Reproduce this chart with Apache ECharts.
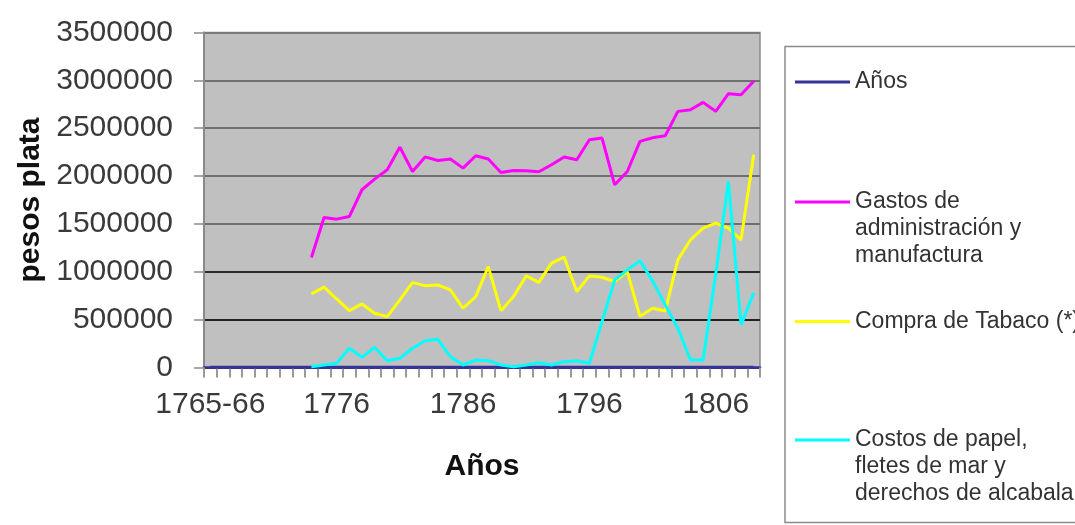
<!DOCTYPE html>
<html>
<head>
<meta charset="utf-8">
<script src="https://cdn.jsdelivr.net/npm/echarts@6/dist/echarts.min.js"></script>
<style>
html,body{margin:0;padding:0;background:#fff;}
#chart{width:1075px;height:525px;}
</style>
</head>
<body>
<div id="chart"></div>
<script>
const categories = ['1765-66','1767','1768','1769','1770','1771','1772','1773','1774','1775',
  '1776','1777','1778','1779','1780','1781','1782','1783','1784','1785',
  '1786','1787','1788','1789','1790','1791','1792','1793','1794','1795',
  '1796','1797','1798','1799','1800','1801','1802','1803','1804','1805',
  '1806','1807','1808','1809'];

const anos = [1765,1767,1768,1769,1770,1771,1772,1773,1774,1775,
  1776,1777,1778,1779,1780,1781,1782,1783,1784,1785,
  1786,1787,1788,1789,1790,1791,1792,1793,1794,1795,
  1796,1797,1798,1799,1800,1801,1802,1803,1804,1805,
  1806,1807,1808,1809];

const gastos = [null,null,null,null,null,null,null,null,
  1150000,1567000,1550000,1577000,1857000,1968000,2066000,2303000,2048000,2200000,
  2163000,2178000,2083000,2212000,2178000,2038000,2058000,2055000,2045000,2118000,
  2199000,2170000,2380000,2397000,1909000,2048000,2362000,2400000,2421000,2676000,
  2693000,2770000,2676000,2861000,2850000,2990000];

const tabaco = [null,null,null,null,null,null,null,null,
  770000,840000,716000,594000,664000,567000,531000,706000,887000,855000,
  863000,811000,619000,741000,1054000,594000,741000,957000,890000,1090000,
  1153000,793000,957000,943000,897000,1002000,535000,619000,590000,1124000,
  1334000,1456000,1508000,1456000,1334000,2223000];

const costos = [null,null,null,null,null,null,null,null,
  8000,26000,44000,201000,107000,211000,71000,96000,201000,280000,
  295000,113000,26000,78000,71000,26000,8000,26000,50000,26000,
  61000,71000,44000,479000,915000,1020000,1115000,905000,654000,410000,
  78000,78000,980000,1943000,445000,780000];

const yTicks = [0,500000,1000000,1500000,2000000,2500000,3000000,3500000];

const seriesNames = ['Años',
  'Gastos de administración y manufactura',
  'Compra de Tabaco (*)',
  'Costos de papel, fletes de mar y derechos de alcabala'];
const legendLabels = ['Años',
  '\n\nGastos de\nadministración y\nmanufactura',
  'Compra de Tabaco (*)',
  '\n\nCostos de papel,\nfletes de mar y\nderechos de alcabala'];
const colors = ['#333399','#FF00FF','#FFFF00','#00FFFF'];
const legendTops = [68.5, 134.5, 308, 372.5];

const FONT = 'Liberation Sans, Arial, sans-serif';
const chart = echarts.init(document.getElementById('chart'), null, {renderer:'canvas'});

const legends = seriesNames.map((n, i) => ({
  data: [n],
  left: 795,
  top: legendTops[i],
  orient: 'vertical',
  padding: 0,
  icon: 'rect',
  itemWidth: 55,
  itemHeight: 3,
  selectedMode: false,
  formatter: () => legendLabels[i],
  textStyle: {fontFamily: FONT, fontSize: 23, color: '#333', lineHeight: 27}
}));

const mkSeries = (name, data, color, w) => ({
  name, type: 'line', data, symbol: 'none', showSymbol: false,
  connectNulls: false,
  lineStyle: {color, width: w},
  itemStyle: {color}
});

chart.setOption({
  animation: false,
  backgroundColor: '#ffffff',
  color: colors,
  graphic: [{
    type: 'rect', z: 0,
    shape: {x: 785, y: 46.5, width: 400, height: 476},
    style: {fill: '#ffffff', stroke: '#8a8a8a', lineWidth: 1.5}
  }],
  legend: legends,
  grid: {
    left: 204, right: 315, top: 32.5, bottom: 157.5,
    containLabel: false,
    outerBoundsMode: 'none',
    show: true, backgroundColor: '#C0C0C0', borderColor: '#8a8a8a', borderWidth: 1.5
  },
  xAxis: {
    type: 'category',
    data: categories,
    boundaryGap: true,
    name: 'Años',
    nameLocation: 'middle',
    nameGap: 84,
    nameTextStyle: {fontFamily: FONT, fontSize: 30, fontWeight: 'bold', color: '#111'},
    axisLine: {show: true, lineStyle: {color: '#333399', width: 2.5}},
    axisTick: {show: true, interval: 0, length: 10, lineStyle: {color: '#9a9a9a', width: 2}},
    axisLabel: {interval: 9, margin: 22, fontFamily: FONT, fontSize: 30, color: '#3a3a3a'},
    splitLine: {show: false}
  },
  yAxis: {
    type: 'value',
    min: yTicks[0], max: yTicks[yTicks.length-1], interval: 500000,
    name: 'pesos plata',
    nameLocation: 'middle',
    nameGap: 146,
    nameTextStyle: {fontFamily: FONT, fontSize: 30, fontWeight: 'bold', color: '#111'},
    axisLine: {show: true, lineStyle: {color: '#8a8a8a', width: 2}},
    axisTick: {show: true, length: 10, lineStyle: {color: '#8a8a8a', width: 1.5}},
    axisLabel: {margin: 31, fontFamily: FONT, fontSize: 30, color: '#3a3a3a',
      formatter: v => String(v)},
    splitLine: {show: true, lineStyle: {color: ['#333','#222','#2a2a2a','#707070','#707070','#707070','#707070','#7a7a7a'], width: 2}}
  },
  series: [
    mkSeries(seriesNames[0], anos, colors[0], 3),
    mkSeries(seriesNames[1], gastos, colors[1], 3),
    mkSeries(seriesNames[2], tabaco, colors[2], 3),
    mkSeries(seriesNames[3], costos, colors[3], 3)
  ]
});
</script>
</body>
</html>
